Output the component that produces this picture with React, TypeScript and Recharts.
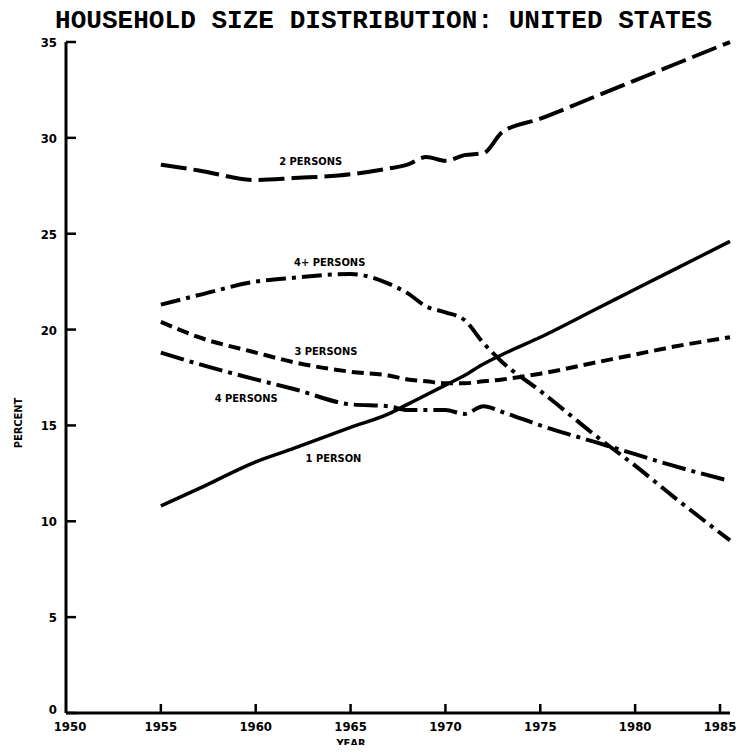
import React from 'react';
import { LineChart, Line, XAxis, YAxis, ReferenceDot } from 'recharts';

// years (not evenly spaced, more points where lines bend)
const YEARS = [1955, 1957, 1960, 1962, 1965, 1967, 1968, 1969, 1970, 1971, 1972, 1973, 1975, 1978, 1980, 1982, 1985];

const ONE_PERSON = [10.8, 11.7, 13.1, 13.8, 14.9, 15.6, 16.1, 16.6, 17.1, 17.6, 18.2, 18.7, 19.6, 21.1, 22.1, 23.1, 24.6];
const TWO_PERSONS = [28.6, 28.3, 27.8, 27.9, 28.1, 28.4, 28.6, 29.0, 28.8, 29.1, 29.2, 30.3, 31.0, 32.2, 33.0, 33.8, 35.0];
const THREE_PERSONS = [20.4, 19.6, 18.8, 18.3, 17.8, 17.6, 17.4, 17.3, 17.2, 17.2, 17.3, 17.4, 17.7, 18.3, 18.7, 19.1, 19.6];
const FOUR_PERSONS = [18.8, 18.2, 17.4, 16.9, 16.1, 16.0, 15.8, 15.8, 15.8, 15.6, 16.0, 15.7, 15.0, 14.1, 13.5, 12.9, 12.1];
const FOUR_PLUS = [21.3, 21.8, 22.5, 22.7, 22.9, 22.4, 21.9, 21.2, 20.9, 20.5, 19.3, 18.3, 16.8, 14.4, 12.9, 11.3, 9.0];

const X_TICKS = [1950, 1955, 1960, 1965, 1970, 1975, 1980, 1985];
const Y_TICKS = [0, 5, 10, 15, 20, 25, 30, 35];

// in-chart labels: [text, year, percent]
const LABELS: [string, number, number][] = [
  ['2 PERSONS', 1962.9, 28.8],
  ['4+ PERSONS', 1963.9, 23.5],
  ['3 PERSONS', 1963.7, 18.9],
  ['4 PERSONS', 1959.5, 16.4],
  ['1 PERSON', 1964.1, 13.3],
];

const data = YEARS.map((year, i) => ({
  year,
  one: ONE_PERSON[i],
  two: TWO_PERSONS[i],
  three: THREE_PERSONS[i],
  four: FOUR_PERSONS[i],
  fourPlus: FOUR_PLUS[i],
}));

const tickFont = "'DejaVu Sans Condensed', 'Liberation Sans Narrow', 'DejaVu Sans', sans-serif";

const YTick = (props: any) => {
  const { x, y, payload } = props;
  return (
    <g>
      <line x1={x + 6} x2={x + 16} y1={y} y2={y} stroke="#000" strokeWidth={2.5} />
      <text
        x={x - 3}
        y={payload.value === 0 ? y - 4 : y}
        dy={5}
        textAnchor="end"
        fontFamily={tickFont}
        fontWeight="bold"
        fontSize={13}
        fill="#000"
      >
        {payload.value}
      </text>
    </g>
  );
};

const XTick = (props: any) => {
  const { x, y, payload } = props;
  return (
    <g>
      {payload.value !== 1950 && (
        <line x1={x} x2={x} y1={y - 4} y2={y - 13} stroke="#000" strokeWidth={2.5} />
      )}
      <text
        x={payload.value === 1950 ? x + 4 : x}
        y={y}
        dy={14}
        textAnchor="middle"
        fontFamily={tickFont}
        fontWeight="bold"
        fontSize={13}
        fill="#000"
      >
        {payload.value}
      </text>
    </g>
  );
};

const lineProps = {
  type: 'monotone' as const,
  stroke: '#000',
  strokeWidth: 4,
  dot: false,
  activeDot: false,
  isAnimationActive: false,
};

export default function App() {
  return (
    <div style={{ position: 'relative', width: 728, height: 737 }}>
      <LineChart width={728} height={737} data={data} margin={{ top: 34, right: 6, bottom: 2, left: 8 }}>
        <XAxis
          dataKey="year"
          type="number"
          domain={[1950, 1985]}
          ticks={X_TICKS}
          height={30}
          tickSize={0}
          tickMargin={4}
          tick={<XTick />}
          axisLine={{ stroke: '#000', strokeWidth: 3 }}
          tickLine={false}
        />
        <YAxis
          type="number"
          domain={[0, 35]}
          ticks={Y_TICKS}
          width={50}
          tickSize={0}
          tickMargin={6}
          tick={<YTick />}
          axisLine={{ stroke: '#000', strokeWidth: 3 }}
          tickLine={false}
        />
        <Line {...lineProps} dataKey="two" strokeDasharray="26 7" />
        <Line {...lineProps} dataKey="fourPlus" strokeDasharray="20 6 4 6" />
        <Line {...lineProps} dataKey="three" strokeDasharray="12 6" />
        <Line {...lineProps} dataKey="four" strokeDasharray="24 6 4 6" />
        <Line {...lineProps} dataKey="one" strokeWidth={3.5} />
        {LABELS.map(([text, yr, pct]) => (
          <ReferenceDot
            key={text}
            x={yr}
            y={pct}
            r={0}
            fill="none"
            stroke="none"
            label={{
              value: text,
              position: 'center',
              fill: '#000',
              fontSize: 11,
              fontWeight: 'bold',
              fontFamily: tickFont,
            }}
          />
        ))}
      </LineChart>
      {/* overlay in page coordinates (offsets the 8px body margin) */}
      <svg width={744} height={753} style={{ position: 'absolute', left: -8, top: -8, pointerEvents: 'none' }}>
        <text
          x={55}
          y={28}
          fontFamily="'Liberation Mono', 'DejaVu Sans Mono', monospace"
          fontWeight="bold"
          fontSize={26}
          fill="#000"
          textLength={657}
        >
          HOUSEHOLD SIZE DISTRIBUTION: UNITED STATES
        </text>
        <text
          x={18}
          y={423}
          transform="rotate(-90 18 423)"
          textAnchor="middle"
          dy={4}
          fontFamily={tickFont}
          fontWeight="bold"
          fontSize={11}
          fill="#000"
        >
          PERCENT
        </text>
        <text x={351} y={743} textAnchor="middle" dy={4} fontFamily={tickFont} fontWeight="bold" fontSize={11} fill="#000">
          YEAR
        </text>
      </svg>
    </div>
  );
}
